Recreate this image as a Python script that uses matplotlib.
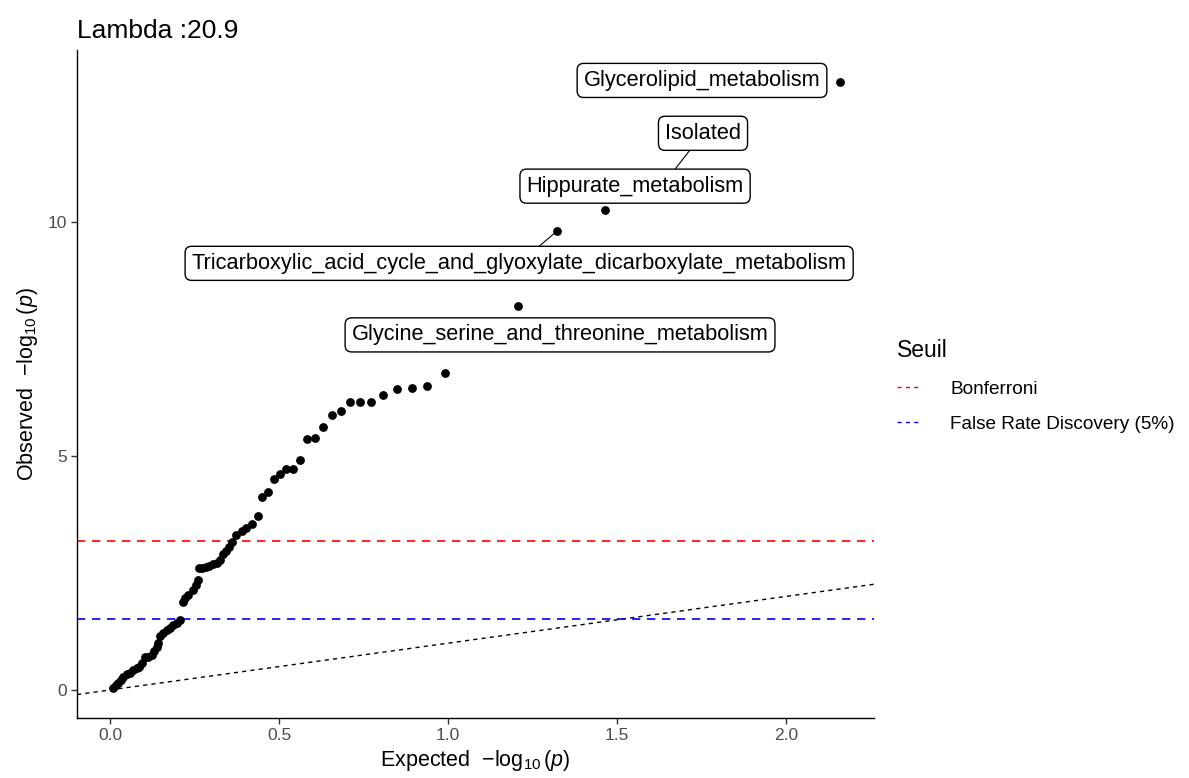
import matplotlib.pyplot as plt
from matplotlib.lines import Line2D

plt.rcParams['font.family'] = ['Liberation Sans', 'DejaVu Sans']
plt.rcParams['mathtext.fontset'] = 'custom'
plt.rcParams['mathtext.rm'] = 'Liberation Sans'
plt.rcParams['mathtext.it'] = 'Liberation Sans:italic'

# valeurs attendues / observées (-log10 p)
expected = [0.009, 0.018, 0.024, 0.033, 0.038, 0.050, 0.059, 0.068, 0.080, 0.086,
            0.095, 0.104, 0.112, 0.124, 0.130, 0.139, 0.142, 0.148, 0.157, 0.169,
            0.178, 0.186, 0.198, 0.207, 0.216, 0.222, 0.231, 0.246, 0.254, 0.260,
            0.263, 0.272, 0.284, 0.293, 0.305, 0.317, 0.325, 0.334, 0.343, 0.352,
            0.361, 0.373, 0.391, 0.402, 0.420, 0.438, 0.450, 0.467, 0.485, 0.503,
            0.521, 0.541, 0.562, 0.583, 0.607, 0.630, 0.657, 0.683, 0.710, 0.740,
            0.772, 0.808, 0.849, 0.893, 0.938, 0.991, 1.207, 1.322, 1.464, 1.630,
            2.160]
observed = [0.04, 0.11, 0.15, 0.21, 0.28, 0.34, 0.36, 0.43, 0.47, 0.49,
            0.58, 0.71, 0.71, 0.75, 0.83, 0.92, 1.00, 1.15, 1.22, 1.28,
            1.32, 1.39, 1.43, 1.50, 1.88, 1.97, 2.03, 2.14, 2.24, 2.35,
            2.61, 2.61, 2.63, 2.65, 2.69, 2.71, 2.78, 2.91, 2.97, 3.06,
            3.16, 3.31, 3.40, 3.46, 3.55, 3.72, 4.12, 4.23, 4.51, 4.62,
            4.72, 4.72, 4.91, 5.36, 5.38, 5.62, 5.88, 5.96, 6.15, 6.15,
            6.15, 6.30, 6.43, 6.45, 6.50, 6.77, 8.21, 9.81, 10.26, 10.75,
            12.99]

# étiquettes : nom, index du point, position de l'étiquette, segment ou non
label_names = ['Glycerolipid_metabolism', 'Isolated', 'Hippurate_metabolism',
               'Tricarboxylic_acid_cycle_and_glyoxylate_dicarboxylate_metabolism',
               'Glycine_serine_and_threonine_metabolism']
label_idx = [70, 69, 68, 67, 66]
label_x = [1.751, 1.754, 1.553, 1.210, 1.331]
label_y = [13.03, 11.90, 10.77, 9.12, 7.59]
label_seg = [False, True, False, True, False]

bonferroni = 3.18
fdr = 1.52
lambda_gc = 20.9

fig = plt.figure(figsize=(11.89, 7.78), dpi=100)
ax = fig.add_axes([0.0648, 0.0771, 0.6703, 0.8586])

ax.set_xlim(-0.098, 2.26)
ax.set_ylim(-0.6, 13.68)

# diagonale y = x
ax.axline((0, 0), slope=1, color='black', lw=1.0, ls=(0, (3, 3)), zorder=1)

h_bonf = ax.axhline(bonferroni, color='#FF0000', lw=1.2, ls=(0, (5, 4)), zorder=1)
h_fdr = ax.axhline(fdr, color='#0000FF', lw=1.2, ls=(0, (5, 4)), zorder=1)

ax.scatter(expected, observed, s=40, color='black', linewidths=0, zorder=3)

for name, i, lx, ly, seg in zip(label_names, label_idx, label_x, label_y, label_seg):
    if seg:
        ax.plot([expected[i], lx], [observed[i], ly], color='black', lw=0.8, zorder=2)
    ax.text(lx, ly, name, ha='center', va='center', fontsize=15.7, zorder=5,
            bbox=dict(boxstyle='round,pad=0.3,rounding_size=0.3', fc='white',
                      ec='black', lw=1.0))

ax.set_xticks([0.0, 0.5, 1.0, 1.5, 2.0])
ax.set_xticklabels(['0.0', '0.5', '1.0', '1.5', '2.0'])
ax.set_yticks([0, 5, 10])
ax.tick_params(colors='#4D4D4D', labelsize=12.5, length=4, width=1.0)
ax.tick_params(axis='both', color='#333333')
for side in ['top', 'right']:
    ax.spines[side].set_visible(False)
for side in ['left', 'bottom']:
    ax.spines[side].set_linewidth(1.0)

ax.set_xlabel(r'Expected  $-\log_{10}(p)$', fontsize=15.5, labelpad=3)
ax.set_ylabel(r'Observed  $-\log_{10}(p)$', fontsize=15.5, labelpad=5)
ax.set_title('Lambda :' + str(lambda_gc), loc='left', fontsize=19, pad=9)

handles = [Line2D([], [], color='#FF0000', lw=1.0, ls=(0, (3, 3))),
           Line2D([], [], color='#0000FF', lw=1.0, ls=(0, (3, 3)))]
leg = fig.legend(handles, ['Bonferroni', 'False Rate Discovery (5%)'], title='Seuil',
                 loc='upper left', bbox_to_anchor=(0.740, 0.586), frameon=False,
                 fontsize=13.7, title_fontsize=16.5, handlelength=1.3,
                 handletextpad=1.5, labelspacing=0.95, alignment='left')

fig.savefig('out.png', dpi=100)
